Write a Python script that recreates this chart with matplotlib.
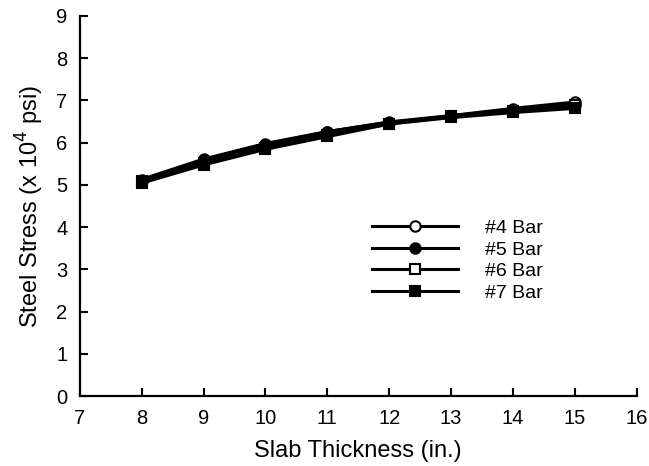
import numpy as np
import matplotlib.pyplot as plt

plt.rcParams['font.family'] = ['Liberation Sans', 'DejaVu Sans']

# Data
thickness = [8, 9, 10, 11, 12, 13, 14, 15]
bar4 = [5.12, 5.60, 5.97, 6.25, 6.48, 6.63, 6.80, 6.95]
bar5 = [5.10, 5.58, 5.95, 6.25, 6.47, 6.62, 6.78, 6.90]
bar6 = [5.08, 5.52, 5.88, 6.18, 6.45, 6.62, 6.75, 6.88]
bar7 = [5.05, 5.48, 5.85, 6.15, 6.45, 6.60, 6.72, 6.82]
labels = ['#4 Bar', '#5 Bar', '#6 Bar', '#7 Bar']

fig = plt.figure(figsize=(6.49, 4.66), dpi=100)
ax = fig.add_axes([0.123, 0.150, 0.858, 0.816])

styles = [('o', 'white'), ('o', 'black'), ('s', 'white'), ('s', 'black')]
for ys, lab, (m, fc) in zip([bar4, bar5, bar6, bar7], labels, styles):
    ax.plot(thickness, ys, color='black', lw=2.8, marker=m, ms=7.5,
            mfc=fc, mec='black', mew=1.5, label=lab)

ax.set_xlim(7, 16)
ax.set_ylim(0, 9)
ax.set_xticks(range(7, 17))
ax.set_yticks(range(0, 10))
ax.spines['top'].set_visible(False)
ax.spines['right'].set_visible(False)
ax.spines['left'].set_linewidth(1.6)
ax.spines['bottom'].set_linewidth(1.6)
ax.tick_params(direction='in', length=6, width=1.5, labelsize=14.5, pad=9)

ax.set_xlabel('Slab Thickness (in.)', fontsize=17, labelpad=9)
ax.set_ylabel('Steel Stress (x 10$^4$ psi)', fontsize=17, labelpad=7)

leg = ax.legend(loc='upper left', bbox_to_anchor=(0.508, 0.49), frameon=False,
                handlelength=4.4, handletextpad=1.4, fontsize=14,
                labelspacing=0.2, borderpad=0)
for h in leg.get_lines():
    h.set_linewidth(2.2)

fig.savefig('out.png', dpi=100)
